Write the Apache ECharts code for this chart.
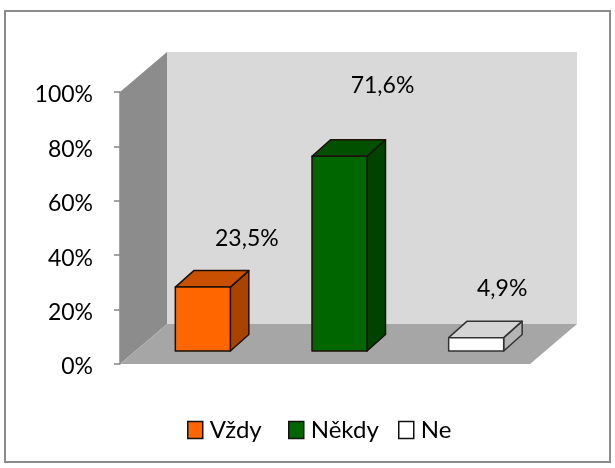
<!DOCTYPE html>
<html><head><meta charset="utf-8">
<style>html,body{margin:0;padding:0;background:#fff}#c{width:615px;height:468px;filter:blur(0.4px)}</style>
<script src="https://cdn.jsdelivr.net/npm/echarts@6/dist/echarts.min.js"></script>
</head><body><div id="c"></div>
<script>
const categories = ['Vždy', 'Někdy', 'Ne'];
const values = [23.5, 71.6, 4.9];
const yTicks = { min: 0, max: 100, interval: 20 };
const frontColors = ['#ff6600', '#006600', '#ffffff'];
const topColors = ['#c85000', '#005000', '#d4d4d4'];
const sideColors = ['#a84400', '#004200', '#b4b4b4'];
const labelLift = [49, 71, 49];
const labelShift = [44, 43, 26];
const legendLeft = [187, 288, 398];

const FONT = 'Lato, sans-serif';
const WALL = { dx: 47, dy: -40 };
const FRONT = { dx: 14.5, dy: -13 };
const BAR = { w: 55, dx: 18.5, dy: -16.5 };
const poly = (points, fill, stroke, lw) => ({
  type: 'polygon',
  shape: { points },
  style: { fill, stroke: stroke || null, lineWidth: lw || 0, lineJoin: 'round' }
});

function renderWalls(params, api) {
  const c = params.coordSys;
  const l = c.x, r = c.x + c.width, t = c.y, b = c.y + c.height;
  const dx = WALL.dx, dy = WALL.dy;
  return {
    type: 'group',
    children: [
      poly([[l + dx, t + dy], [r + dx, t + dy], [r + dx, b + dy], [l + dx, b + dy]], '#d9d9d9'),
      poly([[l, t], [l + dx, t + dy], [l + dx, b + dy], [l, b]], '#8c8c8c'),
      poly([[l, b], [l + dx, b + dy], [r + dx, b + dy], [r, b]], '#a6a6a6')
    ]
  };
}

function makeBarRender(k) {
  return function (params, api) {
    const i = api.value(0), v = api.value(1);
    const top = api.coord([i, v]), base = api.coord([i, 0]);
    const x0 = top[0] + FRONT.dx - BAR.w / 2, x1 = x0 + BAR.w;
    const yT = top[1] + FRONT.dy, yB = base[1] + FRONT.dy;
    const dx = BAR.dx, dy = BAR.dy;
    const edge = k === 2 ? '#333333' : '#1c1008';
    return {
      type: 'group',
      children: [
        poly([[x1, yT], [x1 + dx, yT + dy], [x1 + dx, yB + dy], [x1, yB]], sideColors[k], edge, 1.5),
        poly([[x0, yT], [x0 + dx, yT + dy], [x1 + dx, yT + dy], [x1, yT]], topColors[k], edge, 1.5),
        poly([[x0, yT], [x1, yT], [x1, yB], [x0, yB]], frontColors[k], edge, 1.5),
        {
          type: 'text',
          style: {
            text: v.toFixed(1).replace('.', ',') + '%',
            x: (x0 + x1) / 2 + labelShift[k], y: yT - labelLift[k],
            fill: '#000', font: '23px ' + FONT, align: 'center', verticalAlign: 'middle'
          }
        }
      ]
    };
  };
}

const series = [{
  type: 'custom', name: '_walls', silent: true, z: 1,
  data: [[0, 0]], encode: { x: 0, y: 1 }, renderItem: renderWalls
}].concat(categories.map((name, k) => ({
  type: 'custom', name, z: 2,
  data: [[k, values[k]]], encode: { x: 0, y: 1 },
  itemStyle: { color: frontColors[k] },
  renderItem: makeBarRender(k)
})));

const chart = echarts.init(document.getElementById('c'), null, { renderer: 'canvas' });
chart.setOption({
  animation: false,
  backgroundColor: '#fff',
  graphic: [{
    type: 'rect', z: -1,
    shape: { x: 5, y: 11, width: 605, height: 451 },
    style: { fill: '#fff', stroke: '#8c8c8c', lineWidth: 2 }
  }],
  grid: { left: 120, top: 92, width: 410, height: 272, containLabel: false },
  xAxis: {
    type: 'category', data: categories,
    axisLine: { show: false }, axisTick: { show: false }, axisLabel: { show: false }
  },
  yAxis: {
    type: 'value', min: yTicks.min, max: yTicks.max, interval: yTicks.interval,
    splitLine: { show: false },
    axisLine: { show: true, lineStyle: { color: '#868686', width: 1.5 } },
    axisTick: { show: true, length: 6, lineStyle: { color: '#868686', width: 1.5 } },
    axisLabel: { formatter: '{value}%', margin: 27, color: '#000', fontFamily: FONT, fontSize: 23, verticalAlign: 'top', lineHeight: 6 }
  },
  legend: categories.map((name, k) => ({
    data: [{ name, icon: 'rect' }],
    left: legendLeft[k], top: 418, padding: 0,
    itemWidth: 15, itemHeight: 17, itemGap: 0,
    selectedMode: false,
    itemStyle: { color: frontColors[k], borderColor: '#111', borderWidth: 1.5 },
    textStyle: { color: '#000', fontFamily: FONT, fontSize: 24, padding: [3, 0, 0, 2] }
  })),
  series
});
</script></body></html>
